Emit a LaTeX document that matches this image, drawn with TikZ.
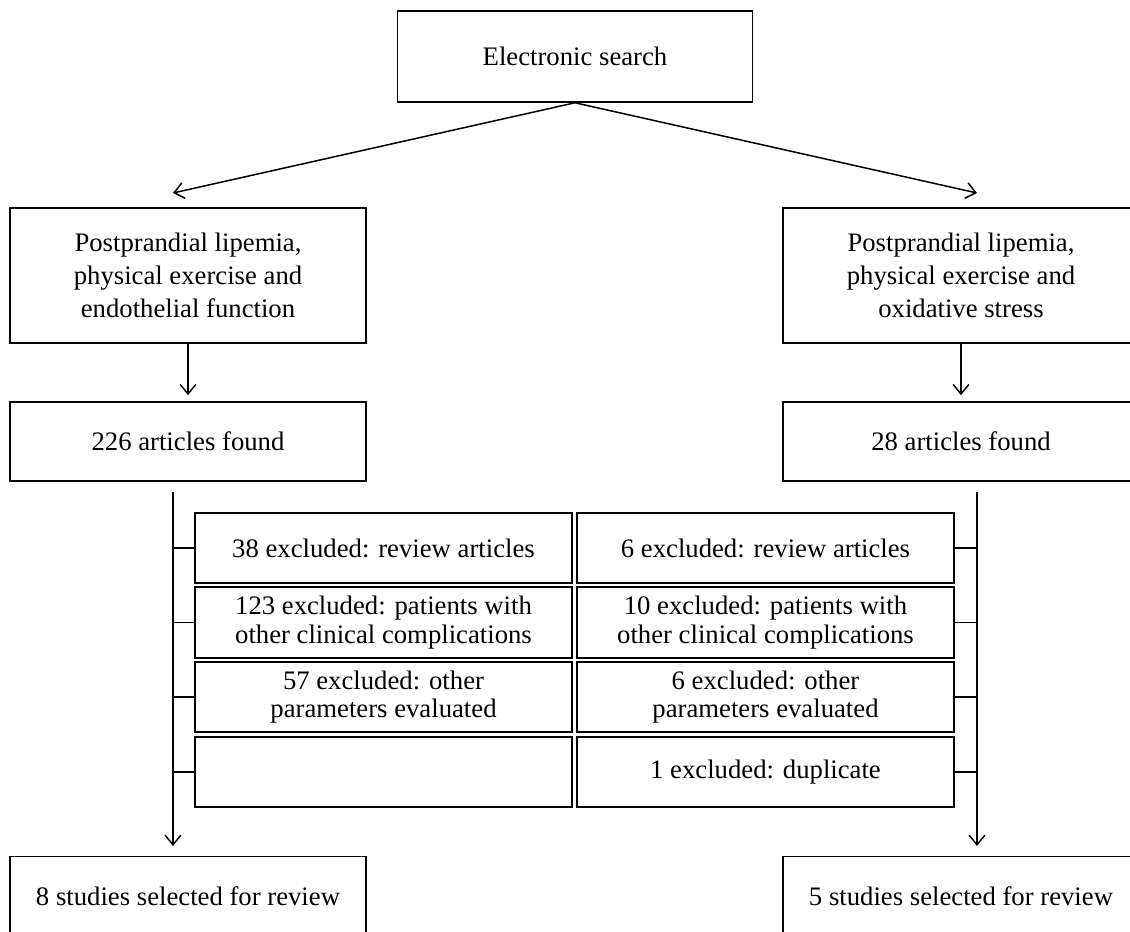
\documentclass[tikz,border=0pt]{standalone}
\usepackage{fontspec}
\setmainfont{Liberation Serif}
\usetikzlibrary{arrows.meta}

\begin{document}
\begin{tikzpicture}[x=0.02cm, y=-0.02cm, >={Straight Barb[length=5.5pt,width=9pt]},
    box/.style={draw, line width=0.9pt, align=center, inner sep=0pt,
        font=\fontsize{15.2}{18.9}\selectfont},
    topicbox/.style={box, minimum width=7.12cm, minimum height=2.7cm},
    foundbox/.style={box, minimum width=7.12cm, minimum height=1.58cm},
    exclbox/.style={box, minimum width=7.54cm, minimum height=1.41cm,
        font=\fontsize{15.2}{16.2}\selectfont},
    link/.style={line width=0.85pt}]

        \useasboundingbox (0,0) rectangle (1130,932);
        \clip (0,0) rectangle (1130,932);

        \node [box, minimum width=7.1cm, minimum height=1.82cm] (search) at (575,56.5) {Electronic search};

        \node [topicbox] (ltopic) at (188,275.5) {Postprandial lipemia,\\physical exercise and\\endothelial function};
        \node [topicbox] (rtopic) at (961,275.5) {Postprandial lipemia,\\physical exercise and\\oxidative stress};

        \node [foundbox] (lfound) at (188,441.5) {226 articles found};
        \node [foundbox] (rfound) at (961,441.5) {28 articles found};

        \node [exclbox] (lx1) at (383.5,548) {38 excluded: review articles};
        \node [exclbox] (lx2) at (383.5,622.5) {123 excluded: patients with\\other clinical complications};
        \node [exclbox] (lx3) at (383.5,697) {57 excluded: other\\parameters evaluated};
        \node [exclbox] (lx4) at (383.5,772) {};

        \node [exclbox] (rx1) at (765.5,548) {6 excluded: review articles};
        \node [exclbox] (rx2) at (765.5,622.5) {10 excluded: patients with\\other clinical complications};
        \node [exclbox] (rx3) at (765.5,697) {6 excluded: other\\parameters evaluated};
        \node [exclbox] (rx4) at (765.5,772) {1 excluded: duplicate};

        \node [foundbox] (lselect) at (188,896) {8 studies selected for review};
        \node [foundbox] (rselect) at (961,896) {5 studies selected for review};

        \coordinate (lsplit) at (173,193);
        \coordinate (rsplit) at (977,193);
        \coordinate (ltop) at (173,492);
        \coordinate (rtop) at (977,492);
        \coordinate (lend) at (173,846);
        \coordinate (rend) at (977,846);

        \draw[link, ->] (search.south) -- (lsplit);
        \draw[link, ->] (search.south) -- (rsplit);

        \draw[link, ->, shorten >=0.12cm] (ltopic) -- (lfound);
        \draw[link, ->, shorten >=0.12cm] (rtopic) -- (rfound);

        \draw[link, ->] (ltop) -- (lend);
        \draw[link, ->] (rtop) -- (rend);

        % ticks to the excluded boxes
        \foreach \i in {1,2,3,4} {
            \draw[link] (ltop |- lx\i.west) -- (lx\i.west);
            \draw[link] (rx\i.east) -- (rtop |- rx\i.east);
        }

    \end{tikzpicture}
\end{document}
